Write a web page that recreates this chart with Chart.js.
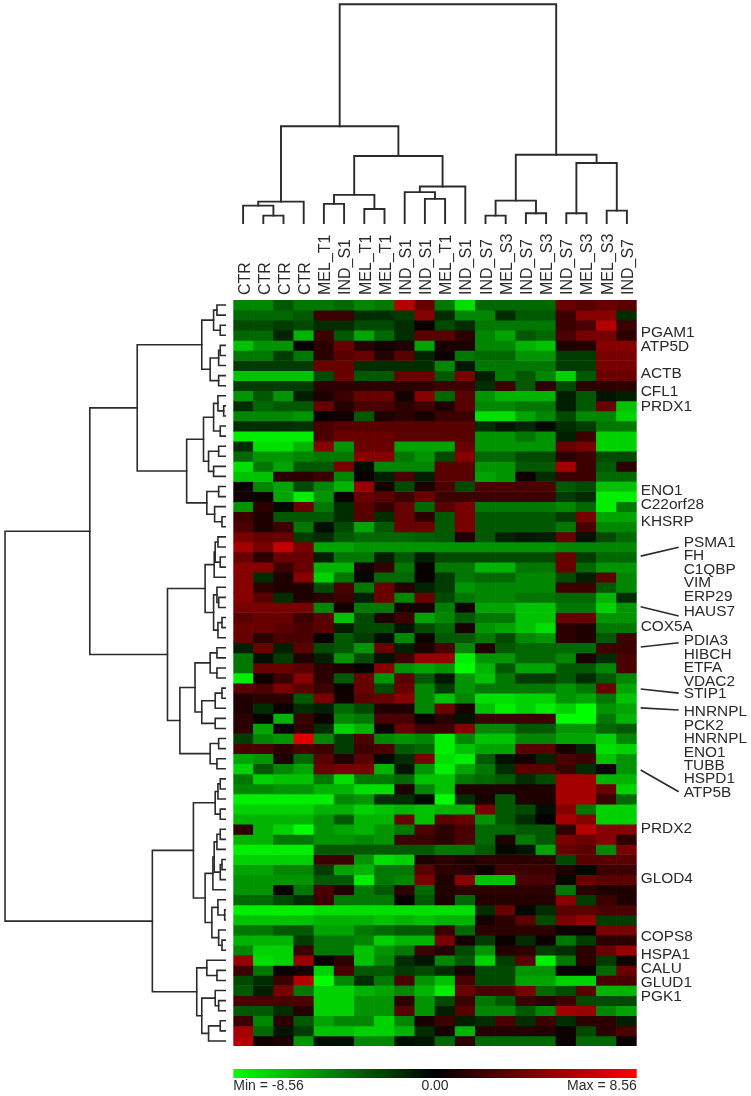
<!DOCTYPE html>
<html>
<head>
<meta charset="utf-8">
<script src="https://cdn.jsdelivr.net/npm/chart.js@4"></script>
<style>
html, body { margin: 0; padding: 0; background: #fff; }
#page { position: relative; width: 751px; height: 1096px; overflow: hidden; }
canvas { position: absolute; display: block; }
</style>
</head>
<body>
<div id="page">
  <canvas id="heatmap" width="751" height="1096" style="left:0;top:0"></canvas>
  <canvas id="colTree" width="404" height="224" style="left:233px;top:0"></canvas>
  <canvas id="rowTree" width="226" height="746" style="left:0;top:300px"></canvas>
  <canvas id="colorBar" width="412" height="36" style="left:233px;top:1060px"></canvas>
</div>
<script>
var columnLabels = ["CTR","CTR","CTR","CTR","MEL_T1","IND_S1","MEL_T1","MEL_T1","IND_S1","IND_S1","MEL_T1","IND_S1","IND_S7","MEL_S3","IND_S7","MEL_S3","IND_S7","MEL_S3","MEL_S3","IND_S7"];

// one line per protein, top to bottom
var rowValues = [
[-4.5,-4.5,-3,-4,-4,-3.5,-4.5,-4,6,3.5,-4,-7.5,-3.5,-3.5,-3.5,-3.5,3.5,3,3.5,3],
[-3.5,-3.5,-3.5,-3,2,2,-1.5,-1.5,-2,4.5,-1.5,-4.5,-4.5,-1.5,-3,-3,2,4.5,4.5,-1.5],
[-2.5,-2.5,-2,-2.5,-1.5,-1.5,-2.5,-2.5,-1.5,0.3,-2.5,-1.5,-4,-4,-4,-4,2,2.5,6,2],
[-3.5,-3.5,-1.2,-6,2,-3,-5.5,-3.5,-1.5,3,3,1.5,-4.5,-5.5,-3,-3.5,2.5,4,4,1.5],
[-6.5,-5,-5,0.2,1.5,3.5,1.2,0.7,1,-5.5,0.8,1,-4.5,-4.5,-6,-6.5,1,1.2,4.5,4.5],
[-4,-4,-2,-4,1.5,3,3.5,1.2,3,-1.2,0.5,-4,-3.5,-3.5,-5,-5,-2,-2,4,4],
[-2,-2,-2,-2,3.5,3.5,-1.5,-1.5,-1.5,-1.5,-4.5,-0.8,-4,-4,-4,-4,-2,-2,4,4],
[-6.5,-6.5,-6.5,-6.5,-2.5,3.5,-3,-3,3.5,3.5,-3,4,-1,-4,-3,-4.5,-7,-3,3.5,3.5],
[-2,-2,-2,-2,1.5,1.5,1.5,1.5,1.5,1.5,2,2,-1.5,2,-3,1.5,-2.5,1.5,1.5,1.5],
[-5,-3,-5,-1,1,2,3.5,3.5,0.7,4.5,-3.5,3,-5,-6,-6,-6,-1,-3,-0.7,-1],
[-1.5,-3.5,-3,-3,3.5,1.2,2.5,2.5,1.5,2,1,3,-4.5,-4.5,-4,-4,-1,-3,3.5,-6.5],
[-4.5,-4.5,-4.5,-5,0.3,0.7,-3,1,1.5,0.8,2,2,-7.5,-7.5,-5.5,-4.5,-2.5,-4.5,-4.5,-7],
[-1.5,-1.5,-1.5,-1.7,2.5,3,3,3,3,3,3,3,-1.5,-0.7,-1.3,-0.3,-1.5,-2,-4,-4],
[-8,-8,-8,-8,2.5,3.5,3.5,3.5,3,3,3,3,-5,-5,-4,-5,-1,2,-7,-7],
[-1.5,-7.5,-7.5,-6,4.5,-5,3.5,3.5,-5.5,-5.5,-5.5,3.5,-5,-5,-5,-5,3.5,4,-7,-7],
[-3.5,-5,-5,-4.5,-4,-4,4.5,4.5,-4,-5,-2.5,4.5,-3.5,-3.5,-2.5,-2.5,1.5,2,-2.5,-2.5],
[-7.5,-4,-5.5,-3,-3,4,-0.4,-4.5,-4.5,-4.5,3,3,-5,-5,-3,-3,5.5,2,-3,1.5],
[-6.5,-6.5,1.5,1.5,2,-4.5,0.3,-1,2.5,-1,3,3,-5.5,-5,0.5,-1.5,2,2,-3.5,-3.5],
[0.4,-4.5,-5.5,-2.5,-4.5,-6,5,0.7,-2.5,1,2.5,-2.5,2.5,2.5,2.5,2.5,-3,-2.5,-6.5,-6.5],
[0.6,0.5,-5.5,-8,-5,0.4,3.5,3,2,3.5,2,2,2,2,2,2,-2,-1.5,-8,-8],
[-5,1.5,-0.3,3.5,-4,-1.5,3,1.7,3.5,-3.5,3,4,-4,-4,-4,-4,-4.5,-3.5,-8,-4],
[2,1,-3,-3,-3,-1.5,3,-1.5,3.5,1.5,-3,4,-3,-3,-3,-3,-2,4,-5.5,-5.5],
[2.5,1,2,-4,-0.5,-2.5,-5.5,-3,3.5,3.5,-3,4,-3,-3,-3,-3,-4,2.5,-4.5,-4.5],
[4,3.5,3.5,-2,-1.5,-3,-3.5,-3.5,-3.5,-3.2,-3,1,-3,-1.2,-0.8,-1,3.5,-0.6,-2.5,-3.5],
[5.5,4,6.5,4,-5.5,-5.5,-5,-5,-5,-5,-5,-5,-5,-5,-5,-5,-4.5,-4.5,-4.5,-4.5],
[3.5,1.5,3.5,3.5,-1,-4,-4,-1,-3,-1,-2.5,-2.5,-2.5,-2.5,-2.5,-2.5,3.5,-2,-3.5,-3.5],
[4.5,4.5,2,3.5,-6,-6,0.7,1.7,-4,0.3,-4,-4,-6,-6,-4,-4,3.5,-3.5,-5,-5],
[4.5,-1.5,1,4.5,-7,-4,-0.2,-3.5,-3.5,0.3,-2,-4,-3.5,-3.5,-4.5,-4.5,-2.5,-1,3,-4.5],
[4.5,1.5,1,1,-2.5,2.5,-4,3.5,1.2,-1.2,-2,-5,-4.5,-4.5,-4.5,-4.5,2,2,-3,-4.5],
[4.5,3,-1.5,1,1.5,2,-1,3.5,-4.5,3.5,-2.5,-4,-4.5,-4.5,-4,-4,-3.5,-3.5,-6,-1.5],
[4,4,4,4,-4.5,0.6,-4,-4,0.7,0.7,-4.2,0.5,-5.5,-5.5,-6.5,-6.5,-4,-4,-7,-5],
[3,3.5,3.5,2,3,-6.5,-2.5,1,2,-5.5,-4.5,-3,-4,-4,-6.5,-6.5,3.5,3.5,-5,-5],
[3.5,3.5,3,2.5,3,-1,-2.5,-2.5,-0.7,-2.5,-3.5,0.8,-5,-5.5,-6.5,-7.5,1.5,1,-4,-4],
[3.5,1.5,2.5,2.5,0.3,-3,-2,-0.4,-4.5,0.5,-3,-3,-4,-2.5,-4.5,-5,1.5,1,-3,2],
[-1,3.5,-1,3,-2.5,-3,-5,3.5,-1,1,2.5,-4.5,1,-3,-3.5,-3.5,-3.5,-3.5,2,2],
[-4,-0.5,-2,1,-1,-5,-2.5,-0.6,2,5,5,-8,-5,-5,-3.5,-3.5,-4.5,0.8,-1.5,2.5],
[-4,3.5,3.5,3,1.5,1,0.3,4.5,-5,-5.5,-5,-8.5,-6,-3,-5.5,-5.5,-3,-3,-4.5,2.5],
[-8,0.5,2,4.5,1.5,-3,3.5,-5,3,-3,-0.8,-5,-6.5,-4,-2,-2,-3,-1.5,-3,-4.5],
[3,2.5,4,3,2,0.5,3.5,-2.5,3.5,-4.5,-2,-5,-4,-4,-4,-4,-5,-4,3.5,-5.5],
[1,1.5,1.5,-3,4,0.6,3,3.5,4.5,-4.5,-6.5,-4.5,-7.5,-7.5,-7,-7,-5,-5.5,-4,-6.5],
[1,-1.5,0.5,-1.5,-1,-3.5,-2.5,1,1,-4.5,3.5,0.8,-6.5,-8,-7,-8,-7,-8.5,-5,-5.5],
[1.5,0.3,-6,2,0.5,-4.5,-4,2.5,2.5,0.3,1.5,-0.6,2,2,2,2,-8.5,-8.5,-4,-6],
[1.5,-5.5,0.3,1.5,-1.5,-7,-6,0.5,3.5,2,2,4.5,-4.5,-4.5,-3,-3,-5,-5,-3.5,-3],
[-2,-4.5,-5,7.5,-4.5,-2,2.5,-4.5,-5,-4.5,-8,-4.5,-6.5,-6.5,-4.5,-4.5,-5.5,-5.5,-7,-4.5],
[2.5,2.5,1.5,2.5,2,-2,2,2.5,-3,-3.5,-8,-6.5,-5.5,-5.5,3,3,0.8,-1.2,-7.5,-7],
[-5.5,-5,1,-3.5,3,1,3,-0.3,-1.5,4,-7.5,-8,-3,-0.6,0.7,-1.2,2.5,2,-6.5,-5],
[-7,-3,-4.5,-5.5,3.5,4,4,-6,-0.7,-5,-8,-5.5,-4,-1.5,3,3,2,-1.5,0.5,-5],
[-4,-7,-6.5,-6.5,-4,-7.5,-4,-4,-3.5,-6.5,-6.5,-4,-3.5,-3,-1.5,-2.5,5.5,5.5,-6,-6],
[-4.5,-4.5,-5,-5,-6,-6,-7.5,-7.5,1,-4.5,-6.5,1,1,1,1,1,5.5,5.5,3.5,-7],
[-8,-8,-8,-8,-8,-4.5,-5,-1.5,-1.5,-0.3,-8.5,-1.5,0.8,-3,1,1,5.5,5.5,2,-3.5],
[-7,-7,-7,-7,-6,-6,-7,-6.5,-6,-6.5,-6,-6,4,-3,-2.5,-0.5,4.5,-4,-7,-7],
[-6,-6,-6,-6,-5,-3,-6,-6,3.5,-6.5,3,3.5,-5,-3,-1.5,0.2,5.5,4.5,-7,-7],
[1.5,-6,-7,-8.5,-5,-5.5,-6,-5,-4,2.5,1.5,2.5,-3.5,-3.5,-3,-3,1.5,6,4.5,4.5],
[-6,-6,-4,-4,-5,-5,-4.5,-5,2,2,1.5,2.5,-3.5,1,-4,-3,4,3.5,4.5,1.5],
[-8,-8,-8,-8,-3,-3,-3,-3,-3,-3,-4,-4,-3,-0.3,-0.7,-5.5,3.5,3,-4.5,4],
[-7,-7,-7,-7,2,2,-5,-7.5,-7,1,1.5,1,1.5,1.5,1.5,1.5,-2.5,3,3,3],
[-5.5,-5.5,-4.5,-4.5,-2,-5.5,-6,-4,-4,3,1.5,1.5,0.5,2,2,2,1,-0.3,2,2],
[-5,-5,-5,-5,-3,-3,-8,-4,-4.5,4,1,4.5,-6.5,-6.5,2.5,2.5,-0.3,3.5,3,3],
[-5,-5,0.3,-4,2.5,1,-4,-3,1.5,-3.5,1.2,1.5,1.5,1.5,1.5,1.5,-4,1.5,1,1],
[-3.5,-3.5,-2.5,-1.5,2,-4,-4,-4,0.3,-3,1,-3.5,1.2,1.2,1.2,1.2,4.5,-2,2,1],
[-8,-8,-8,-8,-7.5,-7.5,-7.5,-7.5,-7.5,-7.5,-7.5,-7.5,-1.5,3.5,-0.3,-1.5,3,3,2.5,2.5],
[-6.5,-6.5,-6.5,-6.5,-6,-6,-6,-6.5,-6,-6.5,-6,-6,0.7,1.5,3,-2.5,4,5,-2,-2],
[-4,-4,-3,-3,-5.5,-5.5,-4,-3.5,-3,-3,2,-3.5,1.5,1.5,1.5,1.5,0.5,0.5,4,4],
[-6,-6,-6,-2,-4,-4,-4.5,-7,-6,-6,4,0.7,-2,0.3,-1.5,0.5,-4,-2,1.5,1.5],
[-4.5,-7,-7,2,-4,-4,-6.5,-5,-4,2,1.2,-2.5,-5,1.2,1.5,-2,-1.5,1.5,3.5,5],
[5,-7.5,-7,5,0.3,1.5,-6.5,-4.5,-1.5,-0.7,-4.5,-3,-7,-2,3,-8,-4,1.5,-2,0.7],
[2,-4,0.3,0.7,-7,2.5,-3,-3,-2,-2.5,-1.5,0.8,-2.5,-2.5,-5,-5,0.2,0.2,-3.5,3.5],
[-2.5,-1.5,2,6,-8.5,-4.5,-1.5,-4,2.5,-5,-6.5,2.5,-2.5,-2.5,-5.5,-5.5,-7,-7,2.5,2.5],
[-3,-1,4,-4,-7,-7,-6,-5.5,-4.5,-6,-8,3.5,2.5,2.5,4,-3.5,-2.5,3,-6,-6],
[2.5,2.5,2.5,2.5,-7,-7,-5,-5,1.5,-5,-2.5,2,-4,-3,2,1.5,2,-2.5,-2.5,-2.5],
[-3,-3,-1.5,1.2,-7,-7,-5,-5,3,-5,-1,3,-4.5,-4.5,-3,-4.5,5.5,5,-4.5,-5.5],
[2,-4.5,1.5,-3,-5.5,-4.5,-4.5,-7,-4.5,0.8,2,-1,-1.5,2.5,-1.5,2,-1.5,1.5,1.5,-1],
[5.5,-3.5,-0.7,-2,-6.5,-6.5,-7,-7,-6,-1.5,0.8,-6,1.2,1.2,1.2,1.2,0.5,-2.5,1.5,2.5],
[6,0.6,1,-5,-0.5,-0.5,-4.5,-4.5,-0.5,-0.7,-3.5,1.5,-3.5,-3.5,-3.5,-3.5,0.4,-3.5,-3.5,0.4]
];

// labels on the right, position given in rows from the top of the heatmap
var geneNames = ["PGAM1","ATP5D","ACTB","CFL1","PRDX1","ENO1","C22orf28","KHSRP","PSMA1","FH","C1QBP","VIM","ERP29","HAUS7","COX5A","PDIA3","HIBCH","ETFA","VDAC2","STIP1","HNRNPL","PCK2","HNRNPL","ENO1","TUBB","HSPD1","ATP5B","PRDX2","GLOD4","COPS8","HSPA1","CALU","GLUD1","PGK1"];
var geneRows = [3.27,4.66,7.34,9.13,10.62,18.95,20.34,22.02,24.07,25.4,26.79,28.08,29.43,30.92,32.41,33.8,35.22,36.51,37.87,39.1,40.87,42.23,43.55,44.91,46.2,47.49,48.88,52.48,57.44,63.19,64.98,66.37,67.76,69.15];
// first and last position of the block of labels pushed to the right, COX5A sits between them
var indentFirst = 8;
var indentLast = 26;
var indentSkip = "COX5A";
var leaderFrom = [25.4,30.43,34.42,38.59,40.45,46.63];
var leaderTo = [24.53,31.35,34.0,38.99,40.67,48.78];

// clustering: [childA, childB, height]. children below the leaf count are leaves, others are earlier merges
var colMerges = [
[1,2,8.3],[0,20,18.3],[21,3,22.3],[4,5,20],[6,7,15],[23,24,29],[9,10,25],[8,26,31.7],[27,11,37.3],[25,28,67.7],[22,29,97.3],
[12,13,8.3],[14,15,10.7],[31,32,23.3],[16,17,10.7],[18,19,13.3],[34,35,60.7],[33,36,69],[30,37,218.7]
];
var rowMerges = [
[0,1,9],[2,3,5.7],[74,75,12.3],[4,5,5.7],[77,6,7.3],[7,8,7.3],[78,79,15.7],[76,80,24],
[10,11,2.3],[9,82,8],[12,13,5.7],[83,84,12.3],[14,15,7.3],[16,17,12.3],[86,87,17.3],[85,88,22.3],
[18,19,7.3],[21,22,4],[20,91,11.3],[90,92,19],[89,93,39],[81,94,88],
[23,24,8],[25,26,5.7],[96,97,10.7],[98,27,11.7],[29,30,7.3],[28,100,9],[31,32,4],[102,33,8],[101,103,12.3],[99,104,20.7],
[34,35,9],[36,37,9],[106,107,15.7],[38,39,4],[109,40,10.7],[41,42,10.7],[110,111,24],[108,112,30.7],
[43,44,7.3],[45,46,9],[114,115,15.7],[113,116,45.7],[105,117,58],[95,118,135],
[47,48,5.7],[120,49,8],[50,51,5.7],[121,122,10.7],[52,53,5.7],[124,54,9],[55,56,4],[126,57,5.7],[125,127,11.7],[128,58,13],
[60,61,1.3],[59,130,8],[63,64,4],[62,132,7.3],[131,133,14],[129,134,20.7],[123,135,32.3],
[66,67,9],[65,137,19],[69,70,7.3],[68,139,10.7],[71,72,5.7],[141,73,17.3],[140,142,24],[138,143,29],[136,144,73],[119,145,219]
];

var colorMin = -8.56;
var colorMax = 8.56;
var inkColor = "#2b2b2b";
var fontName = "'Liberation Sans', Arial, sans-serif";

function valueColor(v) {
  var level = Math.round(Math.min(Math.abs(v) / colorMax, 1) * 255);
  return v < 0 ? "rgb(0," + level + ",0)" : "rgb(" + level + ",0,0)";
}

// turns a merge list into one U shaped line per merge
function treeLines(merges, leafCount, flip) {
  var pos = [], height = [], lines = [], i;
  for (i = 0; i < leafCount; i++) {
    pos[i] = i + 0.5;
    height[i] = 0;
  }
  merges.forEach(function (m, k) {
    var a = m[0], b = m[1], h = m[2];
    var shape = [[pos[a], height[a]], [pos[a], h], [pos[b], h], [pos[b], height[b]]];
    pos[leafCount + k] = (pos[a] + pos[b]) / 2;
    height[leafCount + k] = h;
    lines.push({
      data: shape.map(function (p) {
        return flip ? { x: p[1], y: p[0] } : { x: p[0], y: p[1] };
      })
    });
  });
  return lines;
}

function treeChart(id, lines, scales, width) {
  return new Chart(document.getElementById(id).getContext("2d"), {
    type: "scatter",
    data: {
      datasets: lines.map(function (l) {
        return { data: l.data, showLine: true, pointRadius: 0, borderColor: inkColor, borderWidth: width, borderCapStyle: "square", clip: false, tension: 0 };
      })
    },
    options: {
      responsive: false,
      animation: false,
      events: [],
      layout: { padding: 0 },
      plugins: { legend: { display: false }, tooltip: { enabled: false } },
      scales: scales
    }
  });
}

var geneLabelPlugin = {
  id: "geneLabels",
  afterDraw: function (chart) {
    var c = chart.ctx, y = chart.scales.y;
    var right = chart.chartArea.right;
    c.save();
    c.fillStyle = inkColor;
    c.font = "15.4px " + fontName;
    c.textAlign = "left";
    c.textBaseline = "middle";
    geneNames.forEach(function (name, i) {
      var pushed = i >= indentFirst && i <= indentLast && name !== indentSkip;
      c.fillText(name, pushed ? right + 47 : right + 4, y.getPixelForValue(geneRows[i]));
    });
    c.strokeStyle = inkColor;
    c.lineWidth = 1.7;
    leaderFrom.forEach(function (r, i) {
      c.beginPath();
      c.moveTo(right + 4, y.getPixelForValue(r));
      c.lineTo(right + 42, y.getPixelForValue(leaderTo[i]));
      c.stroke();
    });
    c.restore();
  }
};

// heatmap: every column is a bar, every row a stacked segment of height 1
new Chart(document.getElementById("heatmap").getContext("2d"), {
  type: "bar",
  data: {
    labels: columnLabels,
    datasets: rowValues.map(function (row) {
      return {
        data: row.map(function () { return 1; }),
        backgroundColor: row.map(valueColor),
        borderWidth: 0,
        barPercentage: 1,
        categoryPercentage: 1
      };
    })
  },
  options: {
    responsive: false,
    animation: false,
    events: [],
    layout: { padding: { left: 233.3, right: 114.3, bottom: 50, top: 0 } },
    plugins: { legend: { display: false }, tooltip: { enabled: false } },
    scales: {
      x: {
        stacked: true,
        position: "top",
        afterFit: function (scale) { scale.height = 300; },
        grid: { display: false, tickLength: 0 },
        border: { display: false },
        ticks: {
          autoSkip: false,
          minRotation: 90,
          maxRotation: 90,
          padding: 5,
          labelOffset: 21,
          color: inkColor,
          font: { family: fontName, size: 16 }
        }
      },
      y: { stacked: true, display: false, reverse: true, min: 0, max: rowValues.length }
    }
  },
  plugins: [geneLabelPlugin]
});

treeChart("colTree", treeLines(colMerges, columnLabels.length, false), {
  x: { display: false, min: 0, max: columnLabels.length },
  y: { display: false, min: 0, max: 223 }
}, 1.9);

treeChart("rowTree", treeLines(rowMerges, rowValues.length, true), {
  x: { display: false, reverse: true, min: 0, max: 224 },
  y: { display: false, reverse: true, min: 0, max: rowValues.length }
}, 1.6);

// colour key below the heatmap
new Chart(document.getElementById("colorBar").getContext("2d"), {
  type: "bar",
  data: {
    labels: ["key"],
    datasets: [{
      data: [[colorMin, colorMax]],
      barPercentage: 1,
      categoryPercentage: 1,
      borderWidth: 0,
      backgroundColor: function (ctx) {
        var area = ctx.chart.chartArea;
        if (!area || !isFinite(area.left)) return "#000";
        var g = ctx.chart.ctx.createLinearGradient(area.left, 0, area.right, 0);
        g.addColorStop(0, "rgb(0,255,0)");
        g.addColorStop(0.5, "rgb(0,0,0)");
        g.addColorStop(1, "rgb(255,0,0)");
        return g;
      }
    }]
  },
  options: {
    indexAxis: "y",
    responsive: false,
    animation: false,
    events: [],
    layout: { padding: { left: 0.3, right: 8.3, top: 9, bottom: 0 } },
    plugins: { legend: { display: false }, tooltip: { enabled: false } },
    scales: {
      x: {
        min: colorMin,
        max: colorMax,
        afterBuildTicks: function (scale) {
          scale.ticks = [{ value: colorMin }, { value: 0 }, { value: colorMax }];
        },
        afterFit: function (scale) { scale.height = 18; },
        grid: { display: false, tickLength: 0 },
        border: { display: false },
        ticks: {
          align: "inner",
          autoSkip: false,
          maxRotation: 0,
          padding: 0,
          color: inkColor,
          font: { family: fontName, size: 14 },
          callback: function (v) {
            if (v === colorMin) return "Min = " + colorMin.toFixed(2);
            if (v === colorMax) return "Max = " + colorMax.toFixed(2);
            return v.toFixed(2);
          }
        }
      },
      y: { display: false }
    }
  }
});
</script>
</body>
</html>
